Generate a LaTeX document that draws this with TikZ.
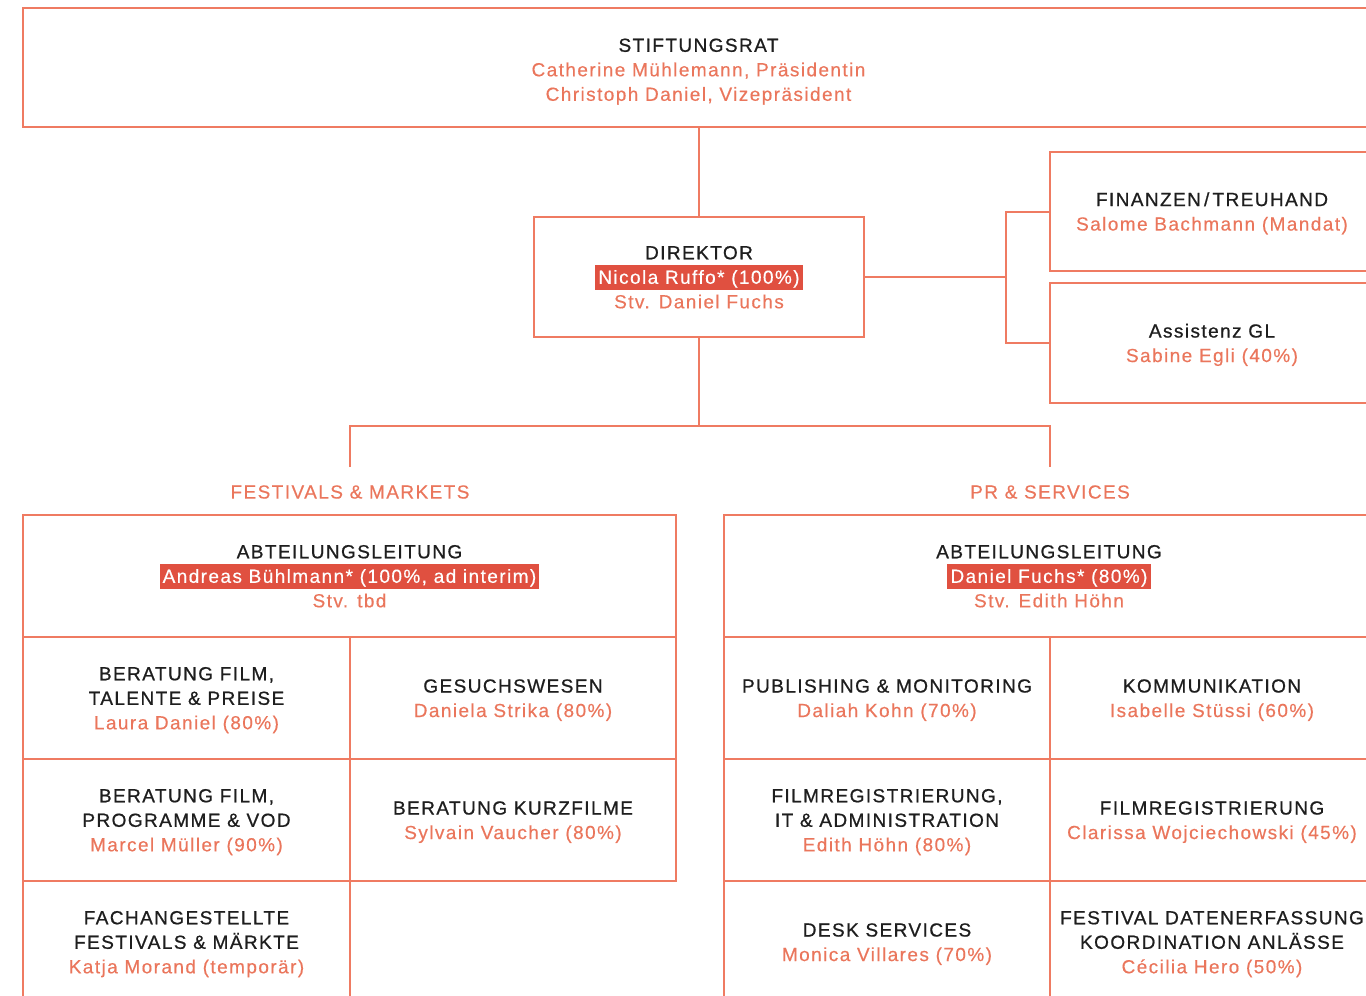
\documentclass[tikz,border=0pt]{standalone}
\usepackage{fontspec}
\setmainfont{Liberation Sans}[LetterSpace=7.5,FakeBold=0.4]
\newfontfamily\orgheadfont{Liberation Sans}[LetterSpace=7.5,FakeBold=0.8]
\definecolor{ln}{RGB}{239,123,98}
\definecolor{sal}{RGB}{234,118,92}
\definecolor{hlred}{RGB}{224,80,64}
\definecolor{ink}{RGB}{30,30,30}
\newcommand{\orghead}[1]{{\orgheadfont\color{ink}#1}}
\newcommand{\orgT}{\rule{0pt}{19.3pt}}
\newcommand{\orgB}{\rule[-5.7pt]{0pt}{1pt}}
\newcommand{\orghl}[1]{{\setlength{\fboxsep}{0pt}\colorbox{hlred}{\rule[-5.7pt]{0pt}{25pt}\hspace{3pt}\textcolor{white}{#1}\hspace{3pt}}}}
\tikzset{
  box/.style={draw=ln, line width=2pt, inner sep=0pt, align=center, text=sal,
    font=\fontsize{19}{24.5}\selectfont},
  lab/.style={inner sep=0pt, text=sal, font=\fontsize{19}{24.5}\selectfont},
  conn/.style={draw=ln, line width=2pt}
}
\begin{document}
\begin{tikzpicture}[x=1pt,y=-1pt]
\useasboundingbox (0,0) rectangle (1366,996);
% top
\node[box,minimum width=1351pt,minimum height=119pt] (stift) at (698.5,67.5)
  {\rule{0pt}{23.3pt}\orghead{STIFTUNGSRAT}\\Catherine Mühlemann, Präsidentin\\Christoph Daniel, Vizepräsident\orgB};
\node[box,minimum width=330pt,minimum height=120pt] (dir) at (699,277)
  {\orgT\orghead{DIREKTOR}\\\orghl{Nicola Ruffo* (100\%)}\\Stv. Daniel Fuchs\orgB};
\node[box,minimum width=324pt,minimum height=119pt] (fin) at (1212,211.5)
  {\orgT\orghead{FINANZEN\,/\,TREUHAND}\\Salome Bachmann (Mandat)\orgB};
\node[box,minimum width=324pt,minimum height=120pt] (ass) at (1212,343)
  {\orgT\orghead{Assistenz GL}\\Sabine Egli (40\%)\orgB};
% section labels
\node[lab] (fm) at (350,492) {FESTIVALS \& MARKETS};
\node[lab] (pr) at (1050,492) {PR \& SERVICES};
% left department
\node[box,minimum width=653pt,minimum height=122pt] (fl) at (349.5,576)
  {\orgT\orghead{ABTEILUNGSLEITUNG}\\\orghl{Andreas Bühlmann* (100\%, ad interim)}\\Stv. tbd\orgB};
\node[box,minimum width=327pt,minimum height=122pt] (c11) at (186.5,698)
  {\orgT\orghead{BERATUNG FILM,}\\\orghead{TALENTE \& PREISE}\\Laura Daniel (80\%)\orgB};
\node[box,minimum width=326pt,minimum height=122pt] (c12) at (513,698)
  {\orgT\orghead{GESUCHSWESEN}\\Daniela Strika (80\%)\orgB};
\node[box,minimum width=327pt,minimum height=122pt] (c21) at (186.5,820)
  {\orgT\orghead{BERATUNG FILM,}\\\orghead{PROGRAMME \& VOD}\\Marcel Müller (90\%)\orgB};
\node[box,minimum width=326pt,minimum height=122pt] (c22) at (513,820)
  {\orgT\orghead{BERATUNG KURZFILME}\\Sylvain Vaucher (80\%)\orgB};
\node[box,minimum width=327pt,minimum height=122pt] (c31) at (186.5,942)
  {\orgT\orghead{FACHANGESTELLTE}\\\orghead{FESTIVALS \& MÄRKTE}\\Katja Morand (temporär)\orgB};
% right department
\node[box,minimum width=650pt,minimum height=122pt] (pl) at (1049,576)
  {\orgT\orghead{ABTEILUNGSLEITUNG}\\\orghl{Daniel Fuchs* (80\%)}\\Stv. Edith Höhn\orgB};
\node[box,minimum width=326pt,minimum height=122pt] (r11) at (887,698)
  {\orgT\orghead{PUBLISHING \& MONITORING}\\Daliah Kohn (70\%)\orgB};
\node[box,minimum width=324pt,minimum height=122pt] (r12) at (1212,698)
  {\orgT\orghead{KOMMUNIKATION}\\Isabelle Stüssi (60\%)\orgB};
\node[box,minimum width=326pt,minimum height=122pt] (r21) at (887,820)
  {\orgT\orghead{FILMREGISTRIERUNG,}\\\orghead{IT \& ADMINISTRATION}\\Edith Höhn (80\%)\orgB};
\node[box,minimum width=324pt,minimum height=122pt] (r22) at (1212,820)
  {\orgT\orghead{FILMREGISTRIERUNG}\\Clarissa Wojciechowski (45\%)\orgB};
\node[box,minimum width=326pt,minimum height=122pt] (r31) at (887,942)
  {\orgT\orghead{DESK SERVICES}\\Monica Villares (70\%)\orgB};
\node[box,minimum width=324pt,minimum height=122pt] (r32) at (1212,942)
  {\orgT\orghead{FESTIVAL DATENERFASSUNG}\\\orghead{KOORDINATION ANLÄSSE}\\Cécilia Hero (50\%)\orgB};
% connectors
\draw[conn] (stift.south -| dir.north) -- (dir.north);
\coordinate (j1) at (1006,277);
\draw[conn] (dir.east) -- (j1);
\draw[conn] (fin.west) -- (fin.west -| j1) -- (ass.west -| j1) -- (ass.west);
\coordinate (j2) at (699,426);
\draw[conn] (dir.south) -- (j2);
\draw[conn] ([yshift=18pt]fm.north) |- (j2) -| ([yshift=18pt]pr.north);
\end{tikzpicture}
\end{document}
